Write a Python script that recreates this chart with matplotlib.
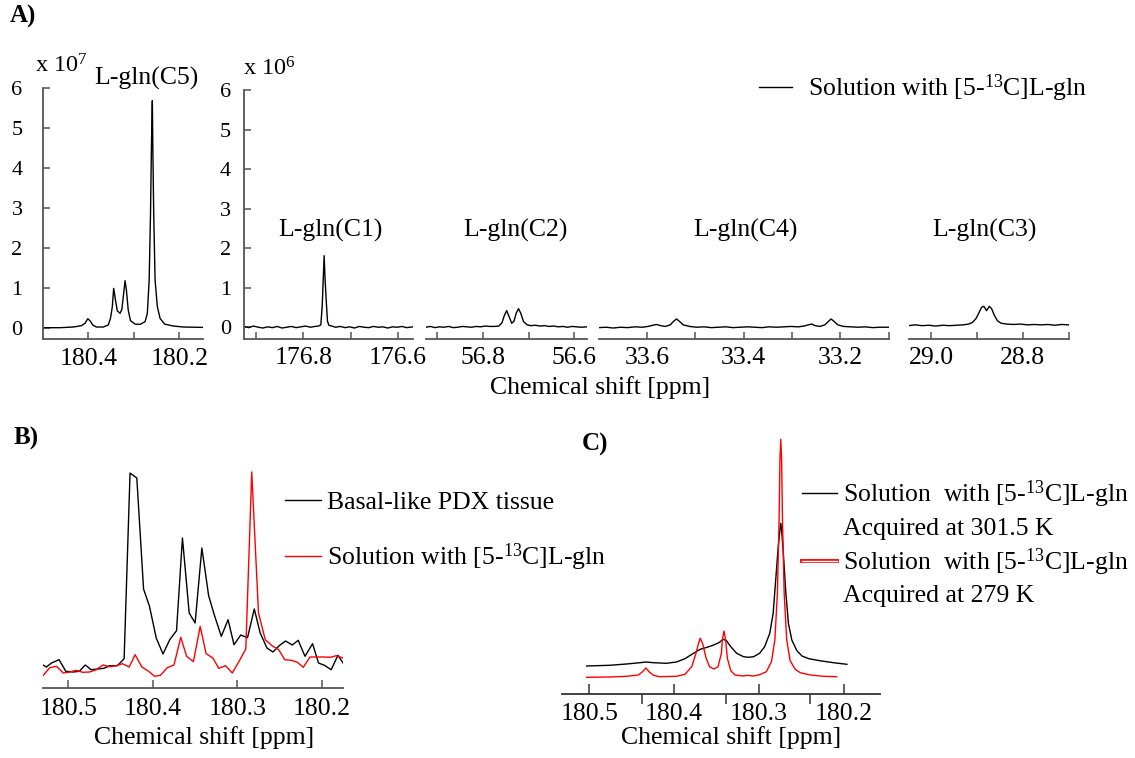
import matplotlib
import matplotlib.pyplot as plt
from matplotlib import patheffects
from matplotlib.lines import Line2D
import numpy as np

plt.switch_backend('agg')
plt.rcParams['font.family'] = ['Liberation Serif', 'DejaVu Serif']
plt.rcParams['mathtext.fontset'] = 'custom'
plt.rcParams['mathtext.rm'] = 'Liberation Serif'
plt.rcParams['mathtext.it'] = 'Liberation Serif:italic'

# ---------------- panel A: [5-13C]L-gln solution, five carbon regions
c5_ppm = np.array([180.499, 180.462, 180.433, 180.415, 180.407, 180.401, 180.396, 180.390,
                   180.382, 180.367, 180.356, 180.351, 180.347, 180.344, 180.340, 180.336,
                   180.330, 180.326, 180.322, 180.319, 180.316, 180.312, 180.307, 180.297,
                   180.286, 180.275, 180.270, 180.266, 180.263, 180.261, 180.259, 180.258,
                   180.256, 180.253, 180.248, 180.242, 180.232, 180.213, 180.191, 180.149])
c5_int = np.array([0.0, 0.0, 0.017, 0.05, 0.11, 0.225, 0.175, 0.067,
                   0.017, 0.017, 0.067, 0.233, 0.525, 0.983, 0.69, 0.42,
                   0.36, 0.46, 0.86, 1.175, 0.94, 0.44, 0.175, 0.09,
                   0.083, 0.15, 0.36, 1.19, 2.86, 4.53, 5.675, 4.53,
                   2.86, 1.19, 0.525, 0.233, 0.09, 0.042, 0.017, 0.008])

c1_ppm = np.array([176.925, 176.915, 176.905, 176.895, 176.885, 176.875, 176.865, 176.855,
                   176.845, 176.835, 176.825, 176.815, 176.805, 176.795, 176.785, 176.775,
                   176.768, 176.763, 176.760, 176.758, 176.756, 176.754, 176.751, 176.749,
                   176.746, 176.740, 176.732, 176.722, 176.712, 176.702, 176.692, 176.682,
                   176.672, 176.662, 176.652, 176.642, 176.632, 176.622, 176.612, 176.602,
                   176.592, 176.582, 176.568])
c1_int = np.array([0.02, -0.01, 0.03, 0.0, -0.02, 0.01, -0.01, 0.02,
                   -0.02, 0.0, 0.02, -0.01, 0.01, 0.03, 0.0, 0.02,
                   0.03, 0.06, 0.55, 1.20, 1.81, 1.20, 0.55, 0.15,
                   0.05, 0.03, 0.0, 0.02, -0.01, 0.01, -0.02, 0.02,
                   0.0, -0.01, 0.02, 0.0, 0.01, -0.02, 0.01, 0.0,
                   0.02, -0.01, 0.01])

c2_ppm = np.array([56.925, 56.915, 56.905, 56.895, 56.885, 56.875, 56.865, 56.855,
                   56.845, 56.835, 56.825, 56.815, 56.805, 56.795, 56.785, 56.775,
                   56.765, 56.758, 56.753, 56.748, 56.743, 56.737, 56.732, 56.727,
                   56.722, 56.717, 56.711, 56.703, 56.695, 56.685, 56.675, 56.665,
                   56.655, 56.645, 56.635, 56.625, 56.615, 56.605, 56.595, 56.585, 56.573])
c2_int = np.array([0.0, 0.02, -0.01, 0.01, 0.0, 0.02, -0.01, 0.0,
                   0.02, 0.01, 0.0, 0.02, 0.01, 0.03, 0.02, 0.02,
                   0.03, 0.12, 0.30, 0.42, 0.28, 0.10, 0.15, 0.36,
                   0.47, 0.35, 0.14, 0.06, 0.04, 0.05, 0.03, 0.04,
                   0.02, 0.03, 0.01, 0.02, 0.0, 0.02, 0.01, 0.0, 0.01])

c4_ppm = np.array([33.699, 33.685, 33.670, 33.655, 33.640, 33.625, 33.610, 33.598,
                   33.588, 33.580, 33.572, 33.562, 33.552, 33.545, 33.539, 33.533,
                   33.525, 33.512, 33.497, 33.482, 33.467, 33.452, 33.437, 33.422,
                   33.407, 33.392, 33.377, 33.362, 33.347, 33.332, 33.317, 33.302,
                   33.287, 33.275, 33.266, 33.259, 33.252, 33.242, 33.232, 33.225,
                   33.219, 33.213, 33.205, 33.193, 33.178, 33.163, 33.148, 33.133,
                   33.118, 33.100])
c4_int = np.array([-0.01, 0.0, -0.02, 0.0, -0.01, 0.01, 0.0, 0.02,
                   0.05, 0.07, 0.04, 0.02, 0.06, 0.15, 0.21, 0.15,
                   0.06, 0.02, 0.0, 0.01, -0.01, 0.0, 0.01, -0.01,
                   0.0, 0.01, 0.0, -0.01, 0.01, 0.0, 0.01, 0.02,
                   0.01, 0.03, 0.06, 0.08, 0.04, 0.02, 0.06, 0.14,
                   0.21, 0.15, 0.06, 0.02, 0.01, 0.0, 0.01, -0.01,
                   0.0, 0.0])

c3_ppm = np.array([29.049, 29.035, 29.020, 29.005, 28.990, 28.975, 28.960, 28.945,
                   28.930, 28.918, 28.910, 28.902, 28.895, 28.890, 28.885, 28.879,
                   28.873, 28.868, 28.862, 28.855, 28.847, 28.835, 28.820, 28.805,
                   28.790, 28.775, 28.760, 28.745, 28.730, 28.715, 28.700])
c3_int = np.array([0.04, 0.06, 0.04, 0.05, 0.03, 0.05, 0.04, 0.05,
                   0.06, 0.08, 0.12, 0.22, 0.38, 0.50, 0.53, 0.42,
                   0.53, 0.47, 0.30, 0.16, 0.10, 0.08, 0.07, 0.08,
                   0.06, 0.07, 0.06, 0.07, 0.05, 0.07, 0.06])

# ---------------- panel B: tissue vs solution (C5 region)
b_tissue_ppm = np.array([180.530, 180.526, 180.520, 180.511, 180.503, 180.494, 180.487, 180.480,
                         180.473, 180.465, 180.458, 180.451, 180.442, 180.434, 180.427, 180.419,
                         180.411, 180.404, 180.396, 180.388, 180.380, 180.372, 180.365, 180.357,
                         180.350, 180.342, 180.334, 180.327, 180.319, 180.311, 180.304, 180.296,
                         180.288, 180.280, 180.273, 180.265, 180.258, 180.250, 180.243, 180.235,
                         180.228, 180.220, 180.211, 180.204, 180.197, 180.189, 180.181, 180.175])
b_tissue_int = np.array([23.0, 21.0, 25.0, 28.3, 16.7, 16.0, 16.7, 23.0,
                         18.3, 19.0, 19.7, 22.3, 22.3, 29.3, 215.0, 210.0,
                         99.0, 81.7, 50.0, 34.0, 48.3, 57.3, 150.0, 75.0,
                         65.0, 140.0, 92.3, 72.3, 51.7, 68.3, 43.3, 53.0,
                         50.3, 79.0, 55.0, 40.0, 36.0, 42.7, 47.0, 43.0,
                         47.7, 31.7, 44.3, 25.0, 22.7, 18.3, 32.7, 25.0])

b_sol_ppm = np.array([180.530, 180.522, 180.514, 180.506, 180.498, 180.491, 180.483, 180.475,
                      180.467, 180.459, 180.451, 180.443, 180.436, 180.428, 180.421, 180.413,
                      180.405, 180.398, 180.391, 180.383, 180.375, 180.367, 180.360, 180.352,
                      180.344, 180.337, 180.329, 180.322, 180.314, 180.306, 180.298, 180.290,
                      180.283, 180.275, 180.267, 180.259, 180.251, 180.244, 180.236, 180.229,
                      180.222, 180.214, 180.206, 180.198, 180.190, 180.183, 180.175])
b_sol_int = np.array([12.3, 20.3, 21.7, 15.0, 16.0, 17.7, 15.7, 16.0,
                      18.3, 23.0, 21.3, 22.3, 24.3, 21.0, 33.3, 21.0,
                      16.7, 11.7, 12.7, 20.3, 23.0, 50.7, 31.7, 26.3,
                      61.7, 34.3, 30.0, 19.7, 22.3, 15.0, 26.7, 39.0,
                      216.0, 75.0, 48.3, 42.3, 38.3, 28.3, 27.7, 25.7,
                      20.7, 31.0, 31.0, 31.0, 30.7, 32.3, 30.0])

# ---------------- panel C: solution at two temperatures
c_warm_ppm = np.array([180.503, 180.476, 180.456, 180.440, 180.433, 180.424, 180.409, 180.397,
                       180.387, 180.377, 180.369, 180.361, 180.354, 180.347, 180.342, 180.338,
                       180.333, 180.326, 180.318, 180.312, 180.306, 180.299, 180.293, 180.287,
                       180.283, 180.280, 180.277, 180.275, 180.274, 180.273, 180.271, 180.268,
                       180.265, 180.261, 180.255, 180.249, 180.241, 180.228, 180.212, 180.196])
c_warm_int = np.array([28.0, 28.7, 30.0, 31.3, 32.0, 31.3, 30.7, 32.0,
                       35.3, 40.7, 44.7, 46.7, 48.7, 51.3, 54.7, 53.3,
                       47.3, 40.7, 37.3, 36.7, 37.3, 40.7, 47.3, 60.7,
                       80.7, 114.0, 147.3, 164.0, 170.7, 164.0, 140.7, 100.7,
                       70.7, 54.0, 43.3, 38.0, 35.3, 33.3, 31.3, 29.7])

c_cold_ppm = np.array([180.503, 180.476, 180.456, 180.442, 180.437, 180.433, 180.429, 180.424,
                       180.417, 180.397, 180.387, 180.379, 180.374, 180.371, 180.369, 180.366,
                       180.362, 180.358, 180.353, 180.348, 180.344, 180.343, 180.341, 180.339,
                       180.337, 180.333, 180.328, 180.318, 180.314, 180.306, 180.299, 180.291,
                       180.285, 180.281, 180.278, 180.276, 180.275, 180.274, 180.273, 180.272,
                       180.270, 180.267, 180.263, 180.257, 180.251, 180.239, 180.224, 180.208])
c_cold_int = np.array([16.7, 17.0, 17.7, 19.0, 22.3, 26.0, 22.0, 18.7,
                       17.3, 17.7, 19.7, 27.3, 40.7, 50.7, 55.7, 50.0,
                       35.7, 27.3, 25.0, 27.3, 40.7, 54.0, 63.0, 54.0,
                       35.7, 23.3, 19.0, 18.0, 18.7, 18.0, 19.3, 22.3,
                       32.3, 54.0, 100.7, 174.0, 234.0, 254.7, 234.0, 174.0,
                       100.7, 54.0, 33.3, 24.7, 21.3, 19.0, 17.7, 17.3])

sol_label = r'Solution with [5-$^{\mathrm{13}}$C]L-gln'
sol_label2 = r'Solution  with [5-$^{\mathrm{13}}$C]L-gln'

# figure is laid out in pixels
W, H = 1135, 758
AXCOL = '#555555'
FS = 18.5


def box(left, top, right, bottom):
    return [left / W, 1 - bottom / H, (right - left) / W, (bottom - top) / H]


def at(x, y):
    return (x / W, 1 - y / H)


def style(ax, yaxis=False, pad=6, ypad=10):
    for s in ['top', 'right']:
        ax.spines[s].set_visible(False)
    ax.spines['left'].set_visible(yaxis)
    for s in ['bottom', 'left']:
        ax.spines[s].set_color(AXCOL)
        ax.spines[s].set_linewidth(1.3)
    ax.tick_params(direction='in', color=AXCOL, length=5, width=1.1,
                   labelsize=FS, pad=pad)
    ax.tick_params(axis='y', labelsize=16, pad=ypad)
    if not yaxis:
        ax.set_yticks([])
    ax.patch.set_alpha(0)


fig = plt.figure(figsize=(W / 100, H / 100), dpi=100)

# (ppm, intensity, pixel box, xlim, ticks, tick labels, y label pad or None)
sub = [
    (c5_ppm, c5_int, (42.7, 87.7, 203.3, 339.3), (180.500, 180.147),
     [180.4, 180.3, 180.2], ['180.4', '', '180.2'], 14.5),
    (c1_ppm, c1_int, (244, 90, 413.3, 338.5), (176.925, 176.568),
     [176.9, 176.8, 176.7, 176.6], ['', '176.8', '', '176.6'], 9.5),
    (c2_ppm, c2_int, (425.8, 90, 586.6, 338.5), (56.925, 56.573),
     [56.9, 56.8, 56.7, 56.6], ['', '56.8', '', '56.6'], None),
    (c4_ppm, c4_int, (599.2, 90, 889, 338.5), (33.699, 33.099),
     [33.6, 33.5, 33.4, 33.3, 33.2, 33.1], ['33.6', '', '33.4', '', '33.2', ''], None),
    (c3_ppm, c3_int, (908.7, 90, 1069, 338.5), (29.049, 28.699),
     [29.0, 28.9, 28.8, 28.7], ['29.0', '', '28.8', ''], None),
]
a_lines = []
for ppm, inten, pix, xl, ticks, tlab, ypad in sub:
    ax = fig.add_axes(box(*pix))
    ln, = ax.plot(ppm, inten, color='black', lw=1.0)
    a_lines.append(ln)
    ax.set_xlim(*xl)
    if pix[0] < 100:
        ax.set_ylim(-0.29, 6.0)
    else:
        ax.set_ylim(-0.285, 6.0)
    ax.set_xticks(ticks)
    ax.set_xticklabels(tlab)
    style(ax, yaxis=ypad is not None, ypad=ypad or 10)
    if ypad is not None:
        ax.set_yticks(range(7))
        ax.set_yticklabels([str(i) for i in range(7)])

fig.text(*at(10, 16), 'A)', fontsize=18, fontweight='bold', va='center')
fig.text(*at(35, 66), r'x 10$^{7}$', fontsize=FS - 1, va='center')
fig.text(*at(243, 69), r'x 10$^{6}$', fontsize=FS - 1, va='center')
for name, cx, cy in [('L-gln(C5)', 146, 78), ('L-gln(C1)', 330, 230),
                     ('L-gln(C2)', 515, 230), ('L-gln(C4)', 745, 230),
                     ('L-gln(C3)', 984, 230)]:
    fig.text(*at(cx, cy), name, fontsize=FS, ha='center', va='center')
fig.text(*at(600, 388), 'Chemical shift [ppm]', fontsize=FS, ha='center', va='center')
fig.legend(handles=[a_lines[0]], labels=[sol_label], loc='center left',
           bbox_to_anchor=at(759, 88), frameon=False, fontsize=FS,
           handlelength=1.3, handletextpad=0.6, borderpad=0, borderaxespad=0)

# ---------------- panel B
axb = fig.add_axes(box(43, 458, 343, 688))
lb1, = axb.plot(b_tissue_ppm, b_tissue_int, color='black', lw=1.0)
lb2, = axb.plot(b_sol_ppm, b_sol_int, color='red', lw=1.0)
axb.set_xlim(180.530, 180.175)
axb.set_ylim(0, 230)
axb.set_xticks([180.5, 180.4, 180.3, 180.2])
axb.set_xticklabels(['180.5', '180.4', '180.3', '180.2'])
style(axb, pad=7)
axb.tick_params(axis='x', length=6)
fig.text(*at(14, 438), 'B)', fontsize=18, fontweight='bold', va='center')
fig.text(*at(204, 738), 'Chemical shift [ppm]', fontsize=FS, ha='center', va='center')
fig.legend(handles=[lb1, lb2], labels=['Basal-like PDX tissue', sol_label],
           loc='center left', bbox_to_anchor=at(285, 532), frameon=False,
           fontsize=FS, handlelength=1.4, handletextpad=0.25, labelspacing=1.1,
           borderpad=0, borderaxespad=0)

# ---------------- panel C
axc = fig.add_axes(box(562, 434, 880, 694))
lc1, = axc.plot(c_warm_ppm, c_warm_int, color='black', lw=1.0)
lc2, = axc.plot(c_cold_ppm, c_cold_int, color='red', lw=1.0)
axc.set_xlim(180.532, 180.157)
axc.set_ylim(0, 260)
axc.set_xticks([180.5, 180.4, 180.3, 180.2])
axc.set_xticklabels(['180.5', '180.4', '180.3', '180.2'])
axc.set_xticks([180.438, 180.339, 180.239], minor=True)
style(axc, pad=6.5)
axc.tick_params(axis='x', which='both', length=7, color='#333333', width=1.1)
axc.spines['bottom'].set_color('#333333')
fig.text(*at(582, 444), 'C)', fontsize=18, fontweight='bold', va='center')
fig.text(*at(731, 738), 'Chemical shift [ppm]', fontsize=FS, ha='center', va='center')

blank = Line2D([], [], color='none')
cold_handle = Line2D([], [], color='white', lw=1.0,
                     path_effects=[patheffects.Stroke(linewidth=2.8, foreground='red'),
                                   patheffects.Normal()])
legc = fig.legend(handles=[lc1, blank, cold_handle, blank],
                  labels=[sol_label2, 'Acquired at 301.5 K', sol_label2, 'Acquired at 279 K'],
                  loc='center left', bbox_to_anchor=at(802, 543), frameon=False,
                  fontsize=FS, handlelength=1.35, handletextpad=0.25, labelspacing=0.25,
                  borderpad=0, borderaxespad=0)

fig.savefig('out.png', dpi=100)
